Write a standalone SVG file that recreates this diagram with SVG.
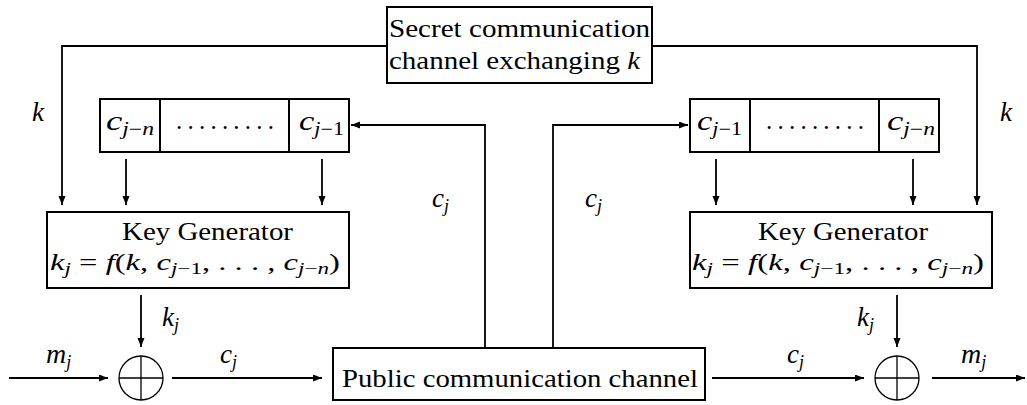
<svg xmlns="http://www.w3.org/2000/svg" width="1027" height="405" viewBox="0 0 1027 405">
<style>
  text { font-family: "Liberation Serif", "Times New Roman", "DejaVu Serif", serif; font-size: 25px; fill: #000; }
  .m { font-style: italic; }
  .s { font-size: 18px; }
  .f { font-size: 27px; }
  .eq { font-size: 24px; }
  .es { font-size: 17px; }
  .box { fill: #fff; stroke: #000; stroke-width: 2; }
  .ln { fill: none; stroke: #000; stroke-width: 1.8; }
  .dv { stroke: #000; stroke-width: 2; }
  .xor { fill: none; stroke: #000; stroke-width: 1.3; }
</style>
<defs>
  <marker id="ah" markerUnits="userSpaceOnUse" markerWidth="10" markerHeight="8" refX="9" refY="3.5" orient="auto">
    <path d="M0,0 L9,3.5 L0,7 z" fill="#000"/>
  </marker>
</defs>

<g id="connectors">
  <path class="ln" d="M387,46 H62 V205" marker-end="url(#ah)"/>
  <path class="ln" d="M652,46 H977 V205" marker-end="url(#ah)"/>
  <path class="ln" d="M126,159 V205" marker-end="url(#ah)"/>
  <path class="ln" d="M322,159 V205" marker-end="url(#ah)"/>
  <path class="ln" d="M716,159 V205" marker-end="url(#ah)"/>
  <path class="ln" d="M913,159 V205" marker-end="url(#ah)"/>
  <path class="ln" d="M485,348 V125 H351" marker-end="url(#ah)"/>
  <path class="ln" d="M553,348 V125 H688" marker-end="url(#ah)"/>
  <path class="ln" d="M141,295 V347" marker-end="url(#ah)"/>
  <path class="ln" d="M897,295 V347" marker-end="url(#ah)"/>
  <path class="ln" d="M9,378 H108" marker-end="url(#ah)"/>
  <path class="ln" d="M172,378 H322" marker-end="url(#ah)"/>
  <path class="ln" d="M712,378 H864" marker-end="url(#ah)"/>
  <path class="ln" d="M932,378 H1025" marker-end="url(#ah)"/>
</g>

<g id="labels">
  <text class="m f" x="32" y="121">k</text>
  <text class="m f" x="1000" y="121">k</text>
  <text x="432" y="207"><tspan class="m f">c</tspan><tspan class="m s" dy="5">j</tspan></text>
  <text x="585" y="207"><tspan class="m f">c</tspan><tspan class="m s" dy="5">j</tspan></text>
  <text x="162" y="326"><tspan class="m f">k</tspan><tspan class="m s" dy="5">j</tspan></text>
  <text x="857" y="326"><tspan class="m f">k</tspan><tspan class="m s" dy="5">j</tspan></text>
  <text x="46" y="363"><tspan class="m" font-size="28">m</tspan><tspan class="m s" dy="5">j</tspan></text>
  <text x="220" y="363"><tspan class="m f">c</tspan><tspan class="m s" dy="5">j</tspan></text>
  <text x="787" y="363"><tspan class="m f">c</tspan><tspan class="m s" dy="5">j</tspan></text>
  <text x="961" y="363"><tspan class="m" font-size="28">m</tspan><tspan class="m s" dy="5">j</tspan></text>
</g>

<g id="secret">
  <rect class="box" x="387" y="7" width="265" height="76"/>
  <text x="389" y="37" textLength="261" lengthAdjust="spacingAndGlyphs">Secret communication</text>
  <text x="389" y="69" textLength="251" lengthAdjust="spacingAndGlyphs">channel exchanging <tspan class="m">k</tspan></text>
</g>

<g id="register-left">
  <rect class="box" x="100" y="99" width="249" height="53"/>
  <line class="dv" x1="160" y1="99" x2="160" y2="152"/>
  <line class="dv" x1="289" y1="99" x2="289" y2="152"/>
  <text x="106" y="130" textLength="48" lengthAdjust="spacingAndGlyphs"><tspan class="m" font-size="28">c</tspan><tspan class="m s" dy="5">j</tspan><tspan class="s">−</tspan><tspan class="m s">n</tspan></text>
  <text x="176" y="129" textLength="98" lengthAdjust="spacing">.........</text>
  <text x="299" y="130" textLength="45" lengthAdjust="spacingAndGlyphs"><tspan class="m" font-size="28">c</tspan><tspan class="m s" dy="5">j</tspan><tspan class="s">−1</tspan></text>
</g>

<g id="register-right">
  <rect class="box" x="690" y="99" width="249" height="53"/>
  <line class="dv" x1="750" y1="99" x2="750" y2="152"/>
  <line class="dv" x1="879" y1="99" x2="879" y2="152"/>
  <text x="697" y="130" textLength="45" lengthAdjust="spacingAndGlyphs"><tspan class="m" font-size="28">c</tspan><tspan class="m s" dy="5">j</tspan><tspan class="s">−1</tspan></text>
  <text x="766" y="129" textLength="98" lengthAdjust="spacing">.........</text>
  <text x="887" y="130" textLength="48" lengthAdjust="spacingAndGlyphs"><tspan class="m" font-size="28">c</tspan><tspan class="m s" dy="5">j</tspan><tspan class="s">−</tspan><tspan class="m s">n</tspan></text>
</g>

<g id="keygen-left">
  <rect class="box" x="47" y="212" width="302" height="76"/>
  <text x="122" y="240" textLength="171" lengthAdjust="spacingAndGlyphs">Key Generator</text>
  <text class="eq" x="50" y="270" textLength="290" lengthAdjust="spacingAndGlyphs"><tspan class="m">k</tspan><tspan class="m es" dy="4">j</tspan><tspan dy="-4"> = </tspan><tspan class="m">f</tspan>(<tspan class="m">k</tspan>, <tspan class="m">c</tspan><tspan class="m es" dy="4">j</tspan><tspan class="es">−1</tspan><tspan dy="-4">, . . . , </tspan><tspan class="m">c</tspan><tspan class="m es" dy="4">j</tspan><tspan class="es">−</tspan><tspan class="m es">n</tspan><tspan dy="-4">)</tspan></text>
</g>

<g id="keygen-right">
  <rect class="box" x="690" y="212" width="302" height="76"/>
  <text x="758" y="240" textLength="170" lengthAdjust="spacingAndGlyphs">Key Generator</text>
  <text class="eq" x="692" y="270" textLength="292" lengthAdjust="spacingAndGlyphs"><tspan class="m">k</tspan><tspan class="m es" dy="4">j</tspan><tspan dy="-4"> = </tspan><tspan class="m">f</tspan>(<tspan class="m">k</tspan>, <tspan class="m">c</tspan><tspan class="m es" dy="4">j</tspan><tspan class="es">−1</tspan><tspan dy="-4">, . . . , </tspan><tspan class="m">c</tspan><tspan class="m es" dy="4">j</tspan><tspan class="es">−</tspan><tspan class="m es">n</tspan><tspan dy="-4">)</tspan></text>
</g>

<g id="public">
  <rect class="box" x="333" y="348" width="372" height="52"/>
  <text x="342" y="387" textLength="356" lengthAdjust="spacingAndGlyphs">Public communication channel</text>
</g>

<g id="xor-left">
  <circle class="xor" cx="141" cy="378" r="22"/>
  <line class="xor" x1="119" y1="378" x2="163" y2="378"/>
  <line class="xor" x1="141" y1="356" x2="141" y2="400"/>
</g>

<g id="xor-right">
  <circle class="xor" cx="897" cy="378" r="22"/>
  <line class="xor" x1="875" y1="378" x2="919" y2="378"/>
  <line class="xor" x1="897" y1="356" x2="897" y2="400"/>
</g>
</svg>
